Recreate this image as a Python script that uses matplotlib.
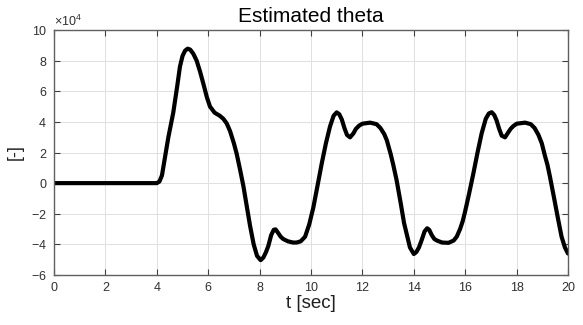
import numpy as np
import matplotlib
matplotlib.use("Agg")
import matplotlib.pyplot as plt
from matplotlib.ticker import ScalarFormatter

# Data (theta in units of 1e4)
t_sec = [0, 4.0, 4.1, 4.2, 4.32, 4.45, 4.64, 4.8, 4.9, 5.0, 5.1, 5.2, 5.3, 5.42, 5.55,
         5.68, 5.81, 5.95, 6.07, 6.25, 6.45, 6.59, 6.72, 6.85, 7.0, 7.11, 7.25,
         7.37, 7.5, 7.63, 7.77, 7.9, 8.04, 8.15, 8.25, 8.34, 8.45, 8.55, 8.62,
         8.72, 8.82, 8.92, 9.1, 9.3, 9.44, 9.6, 9.77, 9.93, 10.09, 10.25, 10.42,
         10.58, 10.74, 10.88, 11.0, 11.1, 11.2, 11.3, 11.4, 11.52, 11.65, 11.75,
         11.87, 12.0, 12.3, 12.55, 12.7, 12.85, 12.95, 13.1, 13.2, 13.33, 13.5,
         13.62, 13.72, 13.85, 14.0, 14.1, 14.2, 14.31, 14.42, 14.52, 14.6, 14.7,
         14.8, 14.9, 15.1, 15.35, 15.55, 15.67, 15.8, 15.9, 15.99, 16.15, 16.32,
         16.48, 16.64, 16.8, 16.92, 17.03, 17.13, 17.22, 17.32, 17.42, 17.55,
         17.67, 17.77, 17.87, 18.0, 18.33, 18.55, 18.7, 18.85, 18.98, 19.1, 19.2,
         19.3, 19.45, 19.62, 19.75, 19.88, 20.0]
theta_e4 = [0, 0, 0.1, 0.5, 1.7, 3.0, 4.6, 6.4, 7.6, 8.3, 8.65, 8.78, 8.72, 8.45, 8.0,
            7.3, 6.5, 5.6, 5.0, 4.6, 4.4, 4.2, 3.9, 3.4, 2.6, 1.9, 0.8,
            -0.2, -1.5, -2.8, -4.0, -4.75, -5.03, -4.85, -4.5, -4.1, -3.4, -3.05, -3.02,
            -3.25, -3.5, -3.65, -3.8, -3.88, -3.88, -3.8, -3.5, -2.7, -1.6, -0.2, 1.3,
            2.6, 3.7, 4.4, 4.62, 4.5, 4.15, 3.6, 3.15, 2.99, 3.25, 3.55,
            3.75, 3.88, 3.95, 3.85, 3.6, 3.2, 2.8, 1.9, 1.2, 0.2, -1.4,
            -2.6, -3.3, -4.2, -4.63, -4.5, -4.2, -3.7, -3.15, -2.95, -3.05, -3.4,
            -3.65, -3.75, -3.88, -3.9, -3.75, -3.5, -3.0, -2.5, -1.9, -0.7, 0.65,
            2.0, 3.25, 4.2, 4.55, 4.63, 4.45, 4.1, 3.55, 3.1, 2.99,
            3.3, 3.55, 3.72, 3.88, 3.95, 3.85, 3.6, 3.15, 2.6, 1.8, 1.2,
            0.4, -0.9, -2.4, -3.5, -4.2, -4.6]
x_ticks = [0, 2, 4, 6, 8, 10, 12, 14, 16, 18, 20]
y_ticks_e4 = [-6, -4, -2, 0, 2, 4, 6, 8, 10]

plt.rcParams['font.family'] = ['Liberation Sans', 'DejaVu Sans']
plt.rcParams['mathtext.fontset'] = 'custom'
plt.rcParams['mathtext.rm'] = 'Liberation Sans'
plt.rcParams['mathtext.it'] = 'Liberation Sans'
plt.rcParams['axes.unicode_minus'] = False

fig = plt.figure(figsize=(5.83, 3.25), dpi=100)
ax = fig.add_axes([54/583, 50/325, (568-54)/583, (275-30)/325])

theta = np.array(theta_e4) * 1e4
ax.plot(t_sec, theta, color='black', lw=3.0, solid_joinstyle='round', solid_capstyle='round')

ax.set_xlim(0, 20)
ax.set_ylim(-6e4, 10e4)
ax.set_xticks(x_ticks)
ax.set_yticks(np.array(y_ticks_e4) * 1e4)

fmt = ScalarFormatter(useMathText=True)
fmt.set_powerlimits((4, 4))
ax.yaxis.set_major_formatter(fmt)
ax.yaxis.get_offset_text().set_fontsize(9)
ax.yaxis.get_offset_text().set_color('#404040')

ax.grid(True, color='#e0e0e0', lw=0.7)
ax.set_axisbelow(True)
for s in ax.spines.values():
    s.set_color('#606060')
    s.set_linewidth(1.0)
ax.tick_params(direction='in', length=4, width=0.8, color='#404040',
               labelsize=9, labelcolor='#303030', top=True, right=True, pad=5)

ax.set_title('Estimated theta', fontsize=15, pad=6)
ax.set_xlabel('t [sec]', fontsize=13.5, labelpad=1, color='#202020')
ax.set_ylabel('[-]', fontsize=13, labelpad=5, color='#202020')

fig.savefig('out.png', dpi=100)
